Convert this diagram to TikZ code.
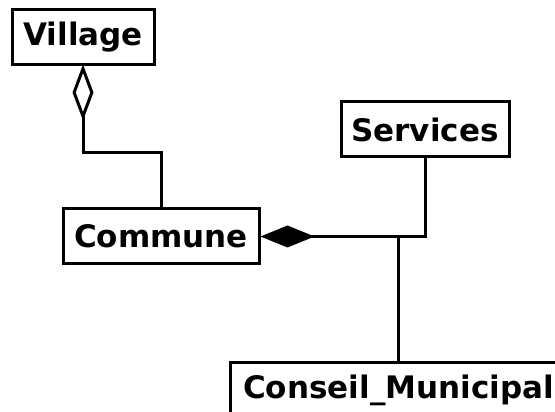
\documentclass[tikz,border=0pt]{standalone}
\usepackage{fontspec}
\setmainfont{DejaVu Sans}
\usetikzlibrary{arrows.meta,positioning}

\begin{document}
\begin{tikzpicture}[x=1pt,y=1pt,
    classbox/.style={draw,line width=3pt,inner sep=0pt,minimum height=55pt,
      font=\fontsize{31}{36}\selectfont\bfseries},
    link/.style={line width=3pt},
    aggr/.style={link,{Diamond[open,length=56pt,width=21pt,line width=3pt,sep=-1.5pt]}-},
    compo/.style={link,-{Diamond[length=54pt,width=22pt]}}]
    \useasboundingbox (0,0) rectangle (555,412);
    \clip (0,0) rectangle (555,412);

    \node[classbox,minimum width=142pt] (village) at (83,375) {Village};
    \node[classbox,minimum width=196pt] (commune) at (161,175.5) {Commune};
    \node[classbox,minimum width=168pt] (services) at (425,282.5) {Services};
    \node[classbox,minimum width=336pt,anchor=north west] (conseil) at (229,51) {Conseil\_Municipal};

    \draw[aggr] (village.south) -- ++(0,-87) -| (commune.north);

    \draw[compo] (services.south) |- (commune.east);
    \coordinate (joint) at (conseil.north |- commune.east);
    \draw[link] (joint) -- (conseil.north);
\end{tikzpicture}
\end{document}
